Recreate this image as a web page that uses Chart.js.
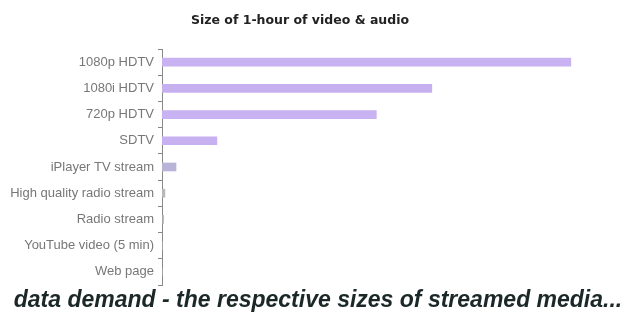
<!DOCTYPE html>
<html>
<head>
<meta charset="utf-8">
<script src="https://cdn.jsdelivr.net/npm/chart.js@4"></script>
<style>
  html, body { margin: 0; padding: 0; background: #fff; }
  #wrap { position: relative; width: 636px; height: 313px; }
  #caption {
    position: absolute; left: 0; top: 286px;
    width: 636px; height: 24px; line-height: 22px; text-align: center;
    font: italic bold 23px 'Liberation Sans', Arial, sans-serif;
    color: #1c2828; white-space: nowrap;
  }
</style>
</head>
<body>
<div id="wrap">
  <canvas id="sizeChart"></canvas>
  <div id="caption">data demand - the respective sizes of streamed media...</div>
</div>
<script>
// categories and approximate sizes (relative)
const media = [
  '1080p HDTV',
  '1080i HDTV',
  '720p HDTV',
  'SDTV',
  'iPlayer TV stream',
  'High quality radio stream',
  'Radio stream',
  'YouTube video (5 min)',
  'Web page'
];
const sizes = [7.0, 4.62, 3.67, 0.94, 0.24, 0.05, 0.025, 0.004, 0.001];
const barColors = ['#c9b2f2', '#c6b0f0', '#c8b2f2', '#c7b1f0', '#b7b4d8', '#b8b8b8', '#a9a9a9', '#bbbbbb', '#cccccc'];

const ctx = document.getElementById('sizeChart').getContext('2d');

const config = {
  type: 'bar',
  data: {
    labels: media,
    datasets: [{
      data: sizes,
      backgroundColor: barColors,
      barThickness: 8,
      borderWidth: 0
    }]
  },
  options: {
    indexAxis: 'y',
    responsive: true,
    maintainAspectRatio: false,
    animation: false,
    layout: { padding: { top: 7, right: 36, left: 0, bottom: 28 } },
    plugins: {
      legend: { display: false },
      tooltip: { enabled: false },
      title: {
        display: true,
        text: 'Size of 1-hour of video & audio',
        color: '#222',
        font: { family: 'DejaVu Sans', size: 12.5, weight: 'bold' },
        padding: { top: 6, bottom: 21 }
      }
    },
    scales: {
      x: {
        display: false,
        min: 0,
        max: 7.5
      },
      y: {
        afterFit: (scale) => { scale.width = 162; },
        grid: {
          drawOnChartArea: false,
          offset: true,
          tickLength: 4,
          color: '#888'
        },
        border: { color: '#888', width: 1 },
        ticks: {
          color: '#777',
          padding: 4,
          font: { family: 'Liberation Sans', size: 13 }
        }
      }
    }
  }
};

new Chart(ctx, config);
</script>
</body>
</html>
